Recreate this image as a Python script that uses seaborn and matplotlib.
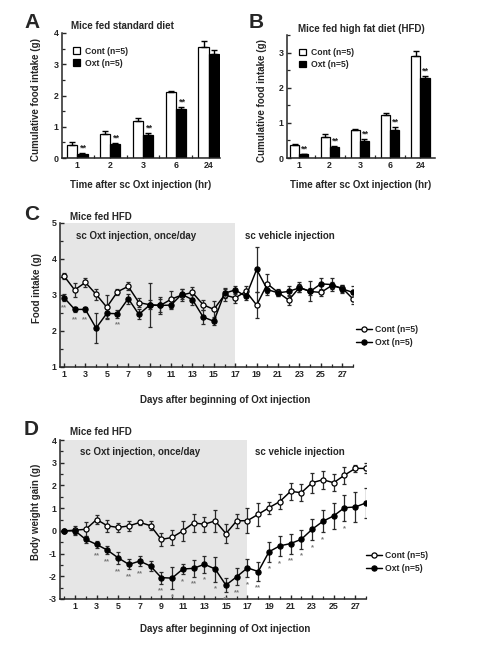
import matplotlib
matplotlib.use('Agg')
import pandas as pd
import matplotlib.pyplot as plt
import seaborn as sns
from matplotlib.ticker import MultipleLocator, FixedLocator

# ---- data ----
hours = ['1', '2', '3', '6', '24']
groups = ['Cont (n=5)', 'Oxt (n=5)']

# A: standard diet, cumulative food intake (g)
std_cont = [0.43, 0.78, 1.17, 2.10, 3.54]
std_cont_err = [0.08, 0.07, 0.10, 0.06, 0.19]
std_oxt = [0.14, 0.44, 0.73, 1.56, 3.32]
std_oxt_err = [0.03, 0.04, 0.08, 0.07, 0.14]
std_sig = ['**', '**', '**', '**', '']

# B: high fat diet, cumulative food intake (g)
hfd_cont = [0.36, 0.60, 0.80, 1.22, 2.89]
hfd_cont_err = [0.03, 0.08, 0.03, 0.07, 0.16]
hfd_oxt = [0.10, 0.30, 0.47, 0.80, 2.27]
hfd_oxt_err = [0.02, 0.04, 0.07, 0.07, 0.07]
hfd_sig = ['**', '**', '**', '**', '**']

# C: daily food intake (g), days 1..28
food_days = list(range(1, 29))
food_cont = [3.53, 3.14, 3.35, 3.02, 2.66, 3.09, 3.24, 2.79, 2.73, 2.71, 2.88, 3.00, 3.07, 2.73,
             2.60, 3.00, 2.92, 3.10, 2.72, 3.31, 3.07, 2.86, 3.21, 3.10, 3.07, 3.26, 3.19, 2.89]
food_cont_err = [0.08, 0.20, 0.13, 0.16, 0.33, 0.09, 0.11, 0.13, 0.13, 0.23, 0.23, 0.17, 0.16, 0.14,
                 0.23, 0.18, 0.14, 0.14, 0.35, 0.26, 0.09, 0.14, 0.14, 0.10, 0.10, 0.10, 0.10, 0.14]
food_oxt = [2.93, 2.60, 2.60, 2.08, 2.49, 2.48, 2.90, 2.46, 2.72, 2.71, 2.72, 3.02, 2.87, 2.39,
            2.27, 3.05, 3.14, 2.96, 3.71, 3.15, 3.06, 3.10, 3.20, 3.10, 3.31, 3.29, 3.17, 3.07]
food_oxt_err = [0.09, 0.08, 0.08, 0.42, 0.12, 0.11, 0.14, 0.14, 0.60, 0.19, 0.12, 0.14, 0.14, 0.20,
                0.11, 0.14, 0.12, 0.11, 0.62, 0.14, 0.09, 0.14, 0.11, 0.28, 0.17, 0.19, 0.11, 0.19]
food_sig = {1: '**', 2: '**', 3: '**', 6: '**'}

# D: body weight gain (g), days 0..28
bw_days = list(range(0, 29))
bw_cont = [0.00, 0.03, 0.07, 0.50, 0.22, 0.15, 0.22, 0.37, 0.23, -0.38, -0.29, 0.00, 0.35, 0.29, 0.44,
           -0.12, 0.44, 0.45, 0.73, 1.02, 1.29, 1.74, 1.68, 2.12, 2.25, 2.12, 2.45, 2.75, 2.75]
bw_cont_err = [0.00, 0.20, 0.30, 0.19, 0.26, 0.18, 0.22, 0.12, 0.20, 0.30, 0.32, 0.44, 0.40, 0.32, 0.50,
               0.40, 0.32, 0.54, 0.50, 0.27, 0.32, 0.37, 0.37, 0.44, 0.40, 0.37, 0.37, 0.15, 0.22]
bw_oxt = [0.00, 0.00, -0.38, -0.60, -0.85, -1.19, -1.48, -1.33, -1.55, -2.06, -2.08, -1.68, -1.65, -1.47,
          -1.68, -2.39, -2.02, -1.63, -1.79, -0.92, -0.66, -0.56, -0.37, 0.07, 0.42, 0.66, 1.02, 1.05, 1.23]
bw_oxt_err = [0.00, 0.12, 0.15, 0.17, 0.17, 0.26, 0.22, 0.22, 0.22, 0.26, 0.50, 0.22, 0.37, 0.37, 0.55,
              0.32, 0.37, 0.40, 0.40, 0.44, 0.44, 0.44, 0.41, 0.47, 0.48, 0.58, 0.58, 0.66, 0.66]
bw_sig = {3: '**', 4: '**', 5: '**', 6: '**', 7: '**', 9: '**', 10: '*', 11: '*', 12: '**', 13: '*',
          14: '*', 15: '**', 16: '**', 17: '*', 18: '**', 19: '*', 20: '*', 21: '**', 22: '*',
          23: '*', 24: '*', 26: '*'}

# ---- style ----
sns.set_style('ticks')
plt.rcParams['font.family'] = ['Liberation Sans', 'DejaVu Sans']
plt.rcParams['font.weight'] = 'bold'
plt.rcParams['axes.labelweight'] = 'bold'
plt.rcParams['axes.linewidth'] = 1.1
plt.rcParams['axes.unicode_minus'] = False
plt.rcParams['xtick.direction'] = 'in'
plt.rcParams['ytick.direction'] = 'in'

W, H = 480, 651
fig = plt.figure(figsize=(W / 100, H / 100), dpi=100)

FS = 7.0     # titles / axis labels
TS = 6.4     # tick labels
LS = 6.2     # legend


def box(l, t, r, b):
    return [l / W, 1 - b / H, (r - l) / W, (b - t) / H]


def ftext(x, y, s, **kw):
    fig.text(x / W, 1 - y / H, s, **kw)


def style_axes(ax):
    sns.despine(ax=ax)
    ax.tick_params(which='major', length=3, width=1, labelsize=TS, pad=2.5)
    ax.tick_params(which='minor', length=2, width=0.9)
    for lab in ax.get_xticklabels() + ax.get_yticklabels():
        lab.set_fontweight('bold')


def bar_panel(ax, cont, cont_err, oxt, oxt_err, sig, width, xlim, ylim, legend_xy):
    df = pd.DataFrame({'hour': hours * 2,
                       'intake': cont + oxt,
                       'group': [groups[0]] * 5 + [groups[1]] * 5})
    sns.barplot(data=df, x='hour', y='intake', hue='group', order=hours, hue_order=groups,
                palette={groups[0]: 'white', groups[1]: 'black'}, edgecolor='black',
                linewidth=0.9, width=width, errorbar=None, ax=ax)
    for cont_bar, vals, errs in zip(ax.containers, [cont, oxt], [cont_err, oxt_err]):
        xs = [p.get_x() + p.get_width() / 2 for p in cont_bar]
        ax.errorbar(xs, vals, yerr=[[0] * 5, errs], fmt='none', ecolor='black',
                    elinewidth=1, capsize=2, capthick=1)
    for p, v, e, s in zip(ax.containers[1], oxt, oxt_err, sig):
        if s:
            ax.text(p.get_x() + p.get_width() / 2 + 0.03, v + e + 0.005 * ylim[1], s,
                    ha='center', va='bottom', fontsize=6.5, color='#222222')
    ax.set_xlim(*xlim)
    ax.set_ylim(*ylim)
    ax.set_xlabel('Time after sc Oxt injection (hr)', fontsize=FS)
    ax.set_ylabel('Cumulative food intake (g)', fontsize=FS)
    ax.xaxis.set_label_coords(0.5, -0.175)
    ax.yaxis.set_label_coords(-0.135, 0.47)
    ax.yaxis.set_major_locator(MultipleLocator(1))
    ax.yaxis.set_minor_locator(MultipleLocator(0.5))
    ax.xaxis.set_minor_locator(FixedLocator([0.5, 1.5, 2.5, 3.5]))
    ax.tick_params(axis='x', which='major', length=0)
    ax.tick_params(axis='x', which='minor', length=3)
    h, l = ax.get_legend_handles_labels()
    ax.legend(h, l, loc='upper left', bbox_to_anchor=legend_xy, frameon=False, fontsize=LS,
              handlelength=0.8, handleheight=0.8, handletextpad=0.6, labelspacing=0.35,
              borderpad=0, borderaxespad=0)
    style_axes(ax)


# ---- A ----
axA = fig.add_axes(box(62, 33, 220, 158))
bar_panel(axA, std_cont, std_cont_err, std_oxt, std_oxt_err, std_sig, 0.63,
          (-0.46, 4.34), (0, 4), (0.068, 0.89))
ftext(24, 28, 'A', fontsize=15, fontweight='bold')
ftext(122, 29, 'Mice fed standard diet', fontsize=FS, fontweight='bold', ha='center')

# ---- B ----
axB = fig.add_axes(box(287, 35, 435, 158))
bar_panel(axB, hfd_cont, hfd_cont_err, hfd_oxt, hfd_oxt_err, hfd_sig, 0.6,
          (-0.41, 4.48), (0, 3.5), (0.083, 0.895))
ftext(249, 28, 'B', fontsize=15, fontweight='bold')
ftext(361, 32, 'Mice fed high fat diet (HFD)', fontsize=FS, fontweight='bold', ha='center')


def line_panel(ax, days, cont, cont_err, oxt, oxt_err, sig, xlim, ylim, ylabel, legend_xy, label_xy):
    ax.set_xlim(*xlim)
    ax.set_ylim(*ylim)
    ax.axvspan(xlim[0], 17, color='#e6e6e6', lw=0, zorder=0)
    ax.errorbar(days, cont, yerr=cont_err, fmt='none', ecolor='#2a2a2a', elinewidth=0.9,
                capsize=1.6, capthick=0.9, zorder=1.5)
    ax.errorbar(days, oxt, yerr=oxt_err, fmt='none', ecolor='#2a2a2a', elinewidth=0.9,
                capsize=1.6, capthick=0.9, zorder=1.5)
    sns.lineplot(x=days, y=cont, ax=ax, color='black', lw=1.05, marker='o', ms=3.7,
                 mfc='white', mec='black', mew=0.9, label=groups[0], zorder=3)
    sns.lineplot(x=days, y=oxt, ax=ax, color='black', lw=1.05, marker='o', ms=3.7,
                 mfc='black', mec='black', mew=0.9, label=groups[1], zorder=3)
    for d, s in sig.items():
        i = days.index(d)
        ax.text(d, oxt[i] - oxt_err[i] - 0.025 * (ylim[1] - ylim[0]), s, ha='center', va='top',
                fontsize=5.5, color='#777777')
    ax.xaxis.set_major_locator(FixedLocator(list(range(1, 28, 2))))
    ax.xaxis.set_minor_locator(MultipleLocator(1))
    ax.yaxis.set_major_locator(MultipleLocator(1))
    ax.yaxis.set_minor_locator(MultipleLocator(0.5))
    ax.set_xlabel('Days after beginning of Oxt injection', fontsize=FS)
    ax.set_ylabel(ylabel, fontsize=FS)
    ax.xaxis.set_label_coords(*label_xy)
    ax.yaxis.set_label_coords(-0.062, 0.55)
    ax.legend(loc='upper left', bbox_to_anchor=legend_xy, frameon=False, fontsize=LS,
              handlelength=1.9, handletextpad=0.3, labelspacing=0.45, borderpad=0, borderaxespad=0)
    style_axes(ax)


# ---- C ----
axC = fig.add_axes(box(60, 223, 353, 367))
line_panel(axC, food_days, food_cont, food_cont_err, food_oxt, food_oxt_err, food_sig,
           (0.63, 28.0), (1, 5), 'Food intake (g)', (1.01, 0.29), (0.563, -0.195))
ftext(24, 220, 'C', fontsize=15, fontweight='bold')
ftext(70, 220, 'Mice fed HFD', fontsize=FS, fontweight='bold')
ftext(76, 236, 'sc Oxt injection, once/day', fontsize=FS, fontweight='bold', va='center')
ftext(245, 236, 'sc vehicle injection', fontsize=FS, fontweight='bold', va='center')

# ---- D ----
axD = fig.add_axes(box(60, 440, 366, 599))
line_panel(axD, bw_days, bw_cont, bw_cont_err, bw_oxt, bw_oxt_err, bw_sig,
           (-0.4, 28.0), (-3, 4), 'Body weight gain (g)', (1.0, 0.30), (0.54, -0.155))
ftext(24, 435, 'D', fontsize=15, fontweight='bold')
ftext(70, 435, 'Mice fed HFD', fontsize=FS, fontweight='bold')
ftext(80, 452, 'sc Oxt injection, once/day', fontsize=FS, fontweight='bold', va='center')
ftext(255, 452, 'sc vehicle injection', fontsize=FS, fontweight='bold', va='center')

fig.savefig('out.png', dpi=100)
